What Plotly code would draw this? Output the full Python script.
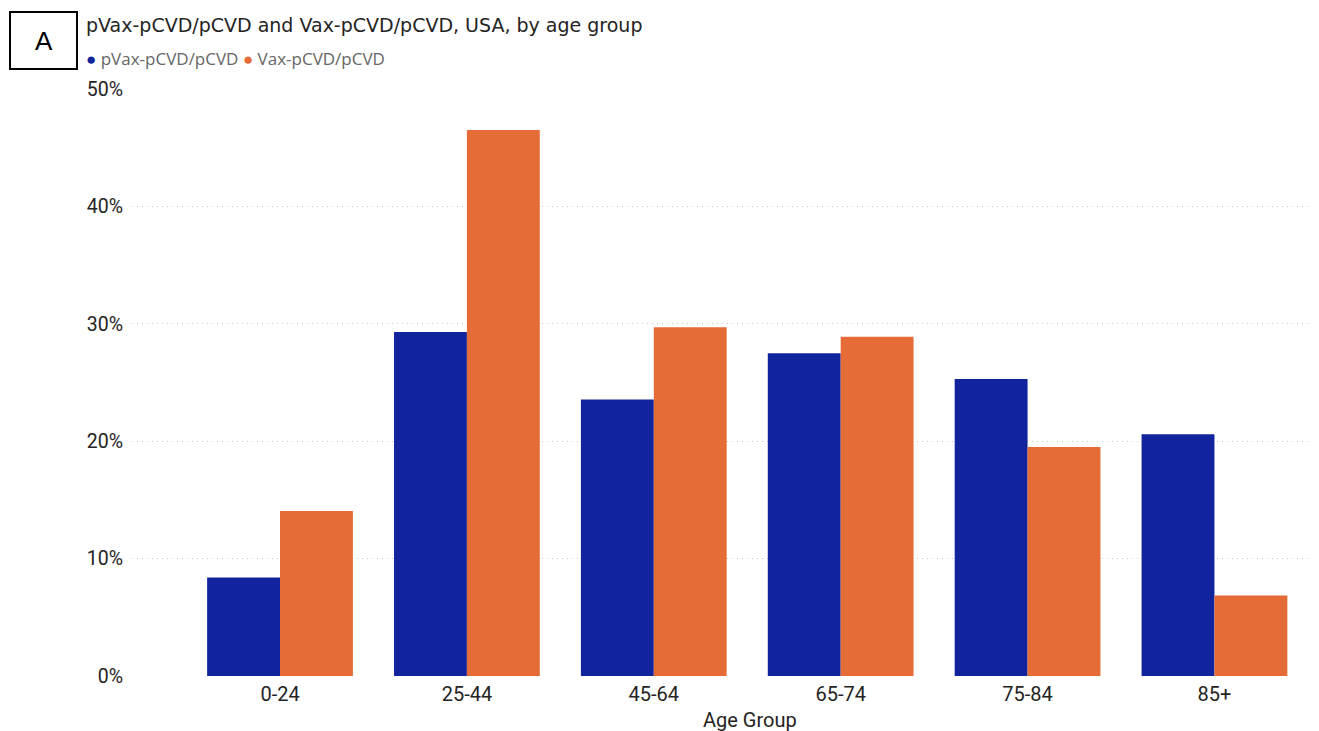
import plotly.graph_objects as go

age_groups = ["0-24", "25-44", "45-64", "65-74", "75-84", "85+"]
pvax_values = [8.4, 29.3, 23.55, 27.5, 25.3, 20.6]
vax_values = [14.05, 46.5, 29.7, 28.9, 19.5, 6.85]
series_names = ["pVax-pCVD/pCVD", "Vax-pCVD/pCVD"]
y_ticks = [0, 10, 20, 30, 40, 50]
y_tick_labels = ["0%", "10%", "20%", "30%", "40%", "50%"]

BLUE = "#12239E"
ORANGE = "#E66C37"

fig = go.Figure()
fig.add_bar(x=age_groups, y=pvax_values, name=series_names[0], marker_color=BLUE,
            marker_line_width=0, showlegend=False)
fig.add_bar(x=age_groups, y=vax_values, name=series_names[1], marker_color=ORANGE,
            marker_line_width=0, showlegend=False)

OFF = 8  # page body margin
W, H = 1319 - OFF, 731 - OFF
L, R, T, B = 132 - OFF, 4, 89 - OFF, 55
pw = W - L - R
ph = H - T - B

def px(x):
    return (x - OFF - L) / pw

def py(y):
    return (H - B - (y - OFF)) / ph

fig.update_layout(
    width=W, height=H,
    margin=dict(l=L, r=R, t=T, b=B),
    paper_bgcolor="white", plot_bgcolor="white",
    barmode="group", bargap=0.22, bargroupgap=0,
    font=dict(family="Roboto, sans-serif", color="#252423"),
    title=dict(text="pVax-pCVD/pCVD and Vax-pCVD/pCVD, USA, by age group",
               x=(86 - OFF) / W, xanchor="left", y=1 - (25 - OFF) / H, yanchor="middle",
               font=dict(family="DejaVu Sans, sans-serif", size=19, color="#252423")),
    xaxis=dict(range=[-0.792, 5.538], showgrid=False, zeroline=False, showline=False,
               tickfont=dict(size=20, color="#252423"), ticks="", ticklabelstandoff=4),
    yaxis=dict(range=[0, 50], tickvals=y_ticks, ticktext=y_tick_labels, showgrid=True,
               gridcolor="#c8c8c8", griddash="1px,4px", gridwidth=1, zeroline=False,
               showline=False, tickfont=dict(size=19.5, color="#252423"), ticks="",
               ticklabelstandoff=8),
)

fig.add_annotation(
    text=f"<span style='color:{BLUE}'>●</span> <span style='color:#666666'>{series_names[0]}</span>"
         f" <span style='color:{ORANGE}'>●</span> <span style='color:#666666'>{series_names[1]}</span>",
    xref="paper", yref="paper", x=px(84), y=py(59), xanchor="left", yanchor="middle",
    showarrow=False, font=dict(size=17, family="Open Sans, sans-serif"))

fig.add_annotation(text="Age Group", xref="paper", yref="paper", x=px(750), y=py(720),
                   xanchor="center", yanchor="middle", showarrow=False,
                   font=dict(size=20, family="Roboto, sans-serif", color="#252423"))

fig.add_shape(type="rect", xref="paper", yref="paper",
              x0=px(10), x1=px(77), y0=py(69), y1=py(12),
              line=dict(color="black", width=2), fillcolor="white")
fig.add_annotation(text="A", xref="paper", yref="paper", x=px(43.5), y=py(41),
                   xanchor="center", yanchor="middle", showarrow=False,
                   font=dict(size=26, family="Liberation Sans, Arial, sans-serif", color="black"))

fig.write_html("out.html")
